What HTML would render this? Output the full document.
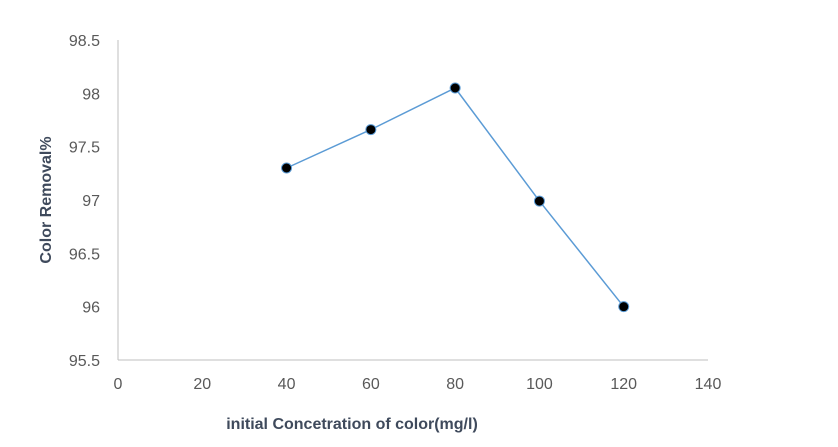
<!DOCTYPE html>
<html><head><meta charset="utf-8"><style>
html,body{margin:0;padding:0;background:#fff;}
svg{display:block;font-family:"Liberation Sans",sans-serif;}
</style></head><body>
<svg id="chart" width="838" height="447" viewBox="0 0 838 447"></svg>
<script>
const xValues=[40,60,80,100,120];
const yValues=[97.3,97.66,98.05,96.99,96.0];
const xTicks=[0,20,40,60,80,100,120,140];
const yTicks=[95.5,96,96.5,97,97.5,98,98.5];
const NS="http://www.w3.org/2000/svg";
const svg=document.getElementById('chart');
function xs(v){return 118+(v-0)/140*590;}
function ys(v){return 360-(v-95.5)/3*320;}
function mk(t,a,p){const e=document.createElementNS(NS,t);for(const k in a)e.setAttribute(k,a[k]);(p||svg).appendChild(e);return e;}
let e;
e=mk('line',{x1:118,y1:40,x2:118,y2:360,stroke:'#bfbfbf','stroke-width':1});


e=mk('line',{x1:118,y1:360,x2:708,y2:360,stroke:'#bfbfbf','stroke-width':1});


yTicks.forEach(v=>{
 const t=mk('text',{x:100,y:ys(v)+6,'text-anchor':'end','font-size':16,fill:'#595959'});
 t.textContent=String(v);
 
 
});
xTicks.forEach(v=>{
 const t=mk('text',{x:xs(v),y:389,'text-anchor':'middle','font-size':16,fill:'#595959'});
 t.textContent=String(v);
 
 
});
let pts=xValues.map((x,i)=>xs(x)+','+ys(yValues[i])).join(' ');
e=mk('polyline',{points:pts,fill:'none',stroke:'#5b9bd5','stroke-width':1.5});


xValues.forEach((x,i)=>{
 const c=mk('circle',{cx:xs(x),cy:ys(yValues[i]),r:5,fill:'#000',stroke:'#5b9bd5','stroke-width':1});
 
 
});
e=mk('text',{x:352,y:429,'text-anchor':'middle','font-size':16,'font-weight':'bold',fill:'#3f4a5c'});
e.textContent='initial Concetration of color(mg/l)';


e=mk('text',{x:0,y:0,'text-anchor':'middle','font-size':16,'font-weight':'bold',fill:'#3f4a5c',transform:'translate(51,200) rotate(-90)'});
e.textContent='Color Removal%';


</script>
</body></html>
